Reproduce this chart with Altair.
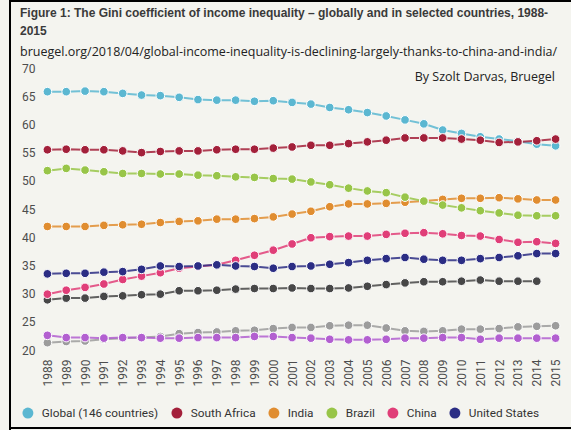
import altair as alt
import pandas as pd

years = list(range(1988, 2016))

# Gini coefficients, 1988-2015
global_146 = [65.8, 65.8, 65.9, 65.8, 65.5, 65.2, 65.1, 64.8, 64.4, 64.3, 64.3, 64.1, 64.2, 63.9,
              63.6, 63.0, 62.6, 62.1, 61.5, 60.8, 60.1, 59.0, 58.4, 57.8, 57.4, 57.0, 56.5, 56.2]
south_africa = [55.5, 55.6, 55.5, 55.5, 55.3, 55.0, 55.2, 55.3, 55.3, 55.5, 55.6, 55.6, 55.8, 56.0,
                56.3, 56.3, 56.6, 56.9, 57.2, 57.6, 57.6, 57.6, 57.4, 57.2, 56.8, 56.9, 57.1, 57.4]
india = [41.9, 41.9, 41.9, 42.1, 42.2, 42.3, 42.6, 42.8, 42.9, 43.2, 43.2, 43.3, 43.6, 44.1,
         44.6, 45.4, 45.9, 45.9, 46.0, 46.2, 46.4, 46.7, 46.9, 46.9, 47.0, 46.8, 46.6, 46.6]
brazil = [51.8, 52.2, 51.9, 51.6, 51.3, 51.3, 51.2, 51.2, 51.0, 50.9, 50.7, 50.6, 50.4, 50.3,
          49.8, 49.3, 48.7, 48.2, 47.9, 47.1, 46.4, 45.7, 45.2, 44.7, 44.3, 43.9, 43.8, 43.8]
china = [29.9, 30.6, 31.1, 31.7, 32.5, 33.1, 33.7, 34.5, 34.8, 35.1, 35.9, 36.8, 37.7, 38.8,
         39.9, 40.1, 40.2, 40.2, 40.5, 40.7, 40.8, 40.6, 40.3, 40.2, 39.6, 39.1, 39.2, 38.9]
united_states = [33.5, 33.6, 33.6, 33.8, 33.9, 34.3, 34.9, 34.8, 34.9, 35.1, 34.9, 34.8, 34.5, 34.8,
                 34.9, 35.2, 35.5, 35.9, 36.2, 36.4, 36.1, 35.9, 35.9, 36.2, 36.4, 36.7, 37.1, 37.1]

# further, unlabelled series
other_dark = [28.9, 29.2, 29.2, 29.5, 29.6, 29.8, 29.9, 30.5, 30.5, 30.6, 30.8, 30.9, 30.9, 31.0,
              30.9, 30.9, 31.0, 31.3, 31.6, 31.9, 32.1, 32.1, 32.2, 32.4, 32.2, 32.2, 32.2, None]
other_light = [21.3, 21.5, 21.6, 21.9, 22.1, 22.2, 22.4, 22.9, 23.1, 23.2, 23.4, 23.5, 23.8, 24.0,
               24.0, 24.3, 24.4, 24.4, 23.9, 23.4, 23.3, 23.4, 23.7, 23.7, 23.8, 24.1, 24.2, 24.3]
other_purple = [22.6, 22.2, 22.2, 22.1, 22.2, 22.2, 22.1, 22.1, 22.2, 22.2, 22.2, 22.4, 22.4, 22.2,
                22.1, 21.9, 21.8, 21.8, 21.9, 22.1, 22.1, 22.2, 22.2, 21.9, 22.1, 22.1, 22.1, 22.1]

named_series = ["Global (146 countries)", "South Africa", "India", "Brazil", "China", "United States"]
named_values = [global_146, south_africa, india, brazil, china, united_states]
named_colors = ["#5bb7d1", "#a3203a", "#e08d30", "#98c548", "#e03e78", "#2b2d84"]

other_series = ["other_dark", "other_light", "other_purple"]
other_values = [other_dark, other_light, other_purple]
other_colors = ["#474747", "#9c9c9c", "#b25fd0"]

title_lines = [
    "Figure 1: The Gini coefficient of income inequality \u2013 globally and in selected countries, 1988-",
    "2015",
]
source_line = "bruegel.org/2018/04/global-income-inequality-is-declining-largely-thanks-to-china-and-india/"
credit_line = "By Szolt Darvas, Bruegel"


def long_table(names, values):
    rows = []
    for name, vals in zip(names, values):
        for yr, v in zip(years, vals):
            if v is not None:
                rows.append({"year": yr, "gini": v, "series": name})
    return pd.DataFrame(rows)


named_df = long_table(named_series, named_values)
other_df = long_table(other_series, other_values)

AXIS_FONT = "Roboto"
W, H = 527, 282

x_enc = alt.X("year:Q",
              scale=alt.Scale(domain=[1987.5, 2015.5], nice=False, zero=False),
              axis=alt.Axis(values=years, format="d", labelAngle=270, labelPadding=9,
                            grid=False, domain=False, ticks=False, title=None,
                            labelFont=AXIS_FONT, labelFontSize=12, labelColor="#4d4d4d",
                            labelFlush=False))
y_enc = alt.Y("gini:Q",
              scale=alt.Scale(domain=[20, 70], nice=False, zero=False),
              axis=alt.Axis(values=list(range(20, 75, 5)), labelPadding=3,
                            grid=False, domain=False, ticks=False, title=None,
                            labelFont=AXIS_FONT, labelFontSize=12, labelColor="#4d4d4d"))

other_color = alt.Color("series:N",
                        scale=alt.Scale(domain=other_series, range=other_colors),
                        legend=None)
named_color = alt.Color("series:N",
                        scale=alt.Scale(domain=named_series, range=named_colors),
                        sort=named_series,
                        legend=alt.Legend(orient="none", direction="horizontal",
                                          legendX=-16, legendY=339, title=None,
                                          symbolType="circle", symbolSize=120,
                                          symbolStrokeWidth=0, symbolOpacity=1,
                                          labelFont=AXIS_FONT, labelFontSize=11.8,
                                          labelColor="#333333", labelOffset=8,
                                          columnPadding=12))

others = alt.Chart(other_df)
other_lines = others.mark_line(strokeWidth=2, opacity=0.85).encode(x=x_enc, y=y_enc, color=other_color)
other_points = others.mark_circle(size=75, opacity=1, stroke="white", strokeWidth=1).encode(
    x=x_enc, y=y_enc, color=other_color)

named = alt.Chart(named_df)
named_lines = named.mark_line(strokeWidth=2, opacity=0.85).encode(x=x_enc, y=y_enc, color=named_color)
named_points = named.mark_circle(size=75, opacity=1, stroke="white", strokeWidth=1).encode(
    x=x_enc, y=y_enc, color=named_color)


def text_layer(text, x, y, align="left", font="Open Sans", size=12.5, weight="normal", color="#222222"):
    return alt.Chart(pd.DataFrame({"t": [text]})).mark_text(
        align=align, baseline="alphabetic", font=font, fontSize=size, fontWeight=weight, color=color
    ).encode(text="t:N", x=alt.value(x), y=alt.value(y))


heading_1 = text_layer(title_lines[0], -18, -51, font="Liberation Sans", size=12,
                       weight="bold", color="#3a3a3a")
heading_2 = text_layer(title_lines[1], -18, -33, font="Liberation Sans", size=12,
                       weight="bold", color="#3a3a3a")
source = text_layer(source_line, -18, -12)
credit = text_layer(credit_line, 517, 13, align="right")

# thin black frame on the left, top and bottom edges
frame_df = pd.DataFrame({"k": [0]})
frame_left = alt.Chart(frame_df).mark_rule(color="black", strokeWidth=2).encode(
    x=alt.value(-28), y=alt.value(-68), y2=alt.value(362))
frame_top = alt.Chart(frame_df).mark_rule(color="black", strokeWidth=2).encode(
    x=alt.value(-28), x2=alt.value(533), y=alt.value(-67))
frame_bottom = alt.Chart(frame_df).mark_rule(color="black", strokeWidth=2).encode(
    x=alt.value(-28), x2=alt.value(533), y=alt.value(360))

chart = alt.layer(
    frame_left, frame_top, frame_bottom,
    alt.layer(other_lines, other_points),
    alt.layer(named_lines, named_points),
    heading_1, heading_2, source, credit,
).resolve_scale(color="independent").properties(
    width=W, height=H,
    autosize=alt.AutoSizeParams(type="none"),
    padding={"left": 38, "top": 68, "right": 6, "bottom": 80},
    background="#f4f4ef",
).configure_view(stroke=None)

chart.save("out.html", embed_options={"renderer": "svg", "actions": False})
